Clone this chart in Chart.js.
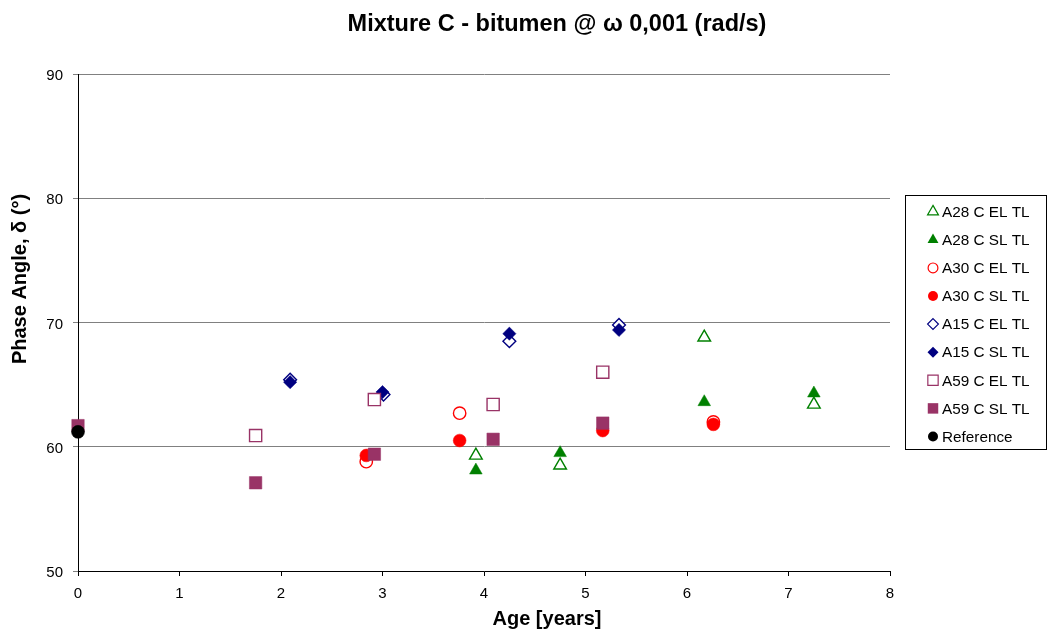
<!DOCTYPE html>
<html>
<head>
<meta charset="utf-8">
<script src="https://cdn.jsdelivr.net/npm/chart.js@4.4.1/dist/chart.umd.min.js"></script>
<style>
html,body{margin:0;padding:0;background:#fff;}
#wrap{width:1047px;height:632px;position:relative;}
</style>
</head>
<body>
<div id="wrap"><canvas id="c" width="1047" height="632"></canvas></div>
<script>
// ---- data ----
const chartTitle = "Mixture C - bitumen @ \u03c9 0,001 (rad/s)";
const xTitle = "Age [years]";
const yTitle = "Phase Angle, \u03b4 (\u00b0)";
const xTicks = [0,1,2,3,4,5,6,7,8];
const yTicks = [50,60,70,80,90];

const seriesNames = ["A28 C EL TL","A28 C SL TL","A30 C EL TL","A30 C SL TL","A15 C EL TL","A15 C SL TL","A59 C EL TL","A59 C SL TL","Reference"];

const a28EL_x = [3.92, 4.75, 6.17, 7.25];
const a28EL_y = [59.3, 58.5, 68.8, 63.4];
const a28SL_x = [3.92, 4.75, 6.17, 7.25];
const a28SL_y = [58.1, 59.5, 63.6, 64.3];
const a30EL_x = [2.84, 3.76, 6.26];
const a30EL_y = [58.8, 62.7, 62.0];
const a30SL_x = [2.84, 3.76, 5.17, 6.26];
const a30SL_y = [59.3, 60.5, 61.3, 61.8];
const a15EL_x = [2.09, 3.01, 4.25, 5.33];
const a15EL_y = [65.4, 64.2, 68.5, 69.8];
const a15SL_x = [2.09, 3.0, 4.25, 5.33];
const a15SL_y = [65.2, 64.4, 69.1, 69.4];
const a59EL_x = [1.75, 2.92, 4.09, 5.17];
const a59EL_y = [60.9, 63.8, 63.4, 66.0];
const a59SL_x = [0, 1.75, 2.92, 4.09, 5.17];
const a59SL_y = [61.7, 57.1, 59.4, 60.6, 61.9];
const ref_x = [0];
const ref_y = [61.2];

const GREEN = '#008000', RED = '#FF0000', NAVY = '#000080', PLUM = '#993366', BLACK = '#000000';

function pts(xs, ys){ return xs.map((x,i)=>({x:x, y:ys[i]})); }

const styles = [
  {style:'triangle', color:GREEN, fill:false, r:7.3, lr:6.3},
  {style:'triangle', color:GREEN, fill:true,  r:7.3, lr:6.3},
  {style:'circle',   color:RED,   fill:false, r:6.2, lr:4.9},
  {style:'circle',   color:RED,   fill:true,  r:6.4, lr:5},
  {style:'rectRot',  color:NAVY,  fill:false, r:6.4, lr:5.4},
  {style:'rectRot',  color:NAVY,  fill:true,  r:6.6, lr:5.5},
  {style:'rect',     color:PLUM,  fill:false, r:8.6, lr:7.3},
  {style:'rect',     color:PLUM,  fill:true,  r:8.8, lr:7.4},
  {style:'circle',   color:BLACK, fill:true,  r:6.5, lr:5}
];
const dataSets = [
  pts(a28EL_x,a28EL_y), pts(a28SL_x,a28SL_y),
  pts(a30EL_x,a30EL_y), pts(a30SL_x,a30SL_y),
  pts(a15EL_x,a15EL_y), pts(a15SL_x,a15SL_y),
  pts(a59EL_x,a59EL_y), pts(a59SL_x,a59SL_y),
  pts(ref_x,ref_y)
];

const datasets = dataSets.map((d,i)=>({
  label: seriesNames[i],
  data: d,
  showLine: false,
  clip: false,
  pointStyle: styles[i].style,
  pointRadius: styles[i].r,
  pointHoverRadius: styles[i].r,
  pointBorderColor: styles[i].color,
  pointBackgroundColor: styles[i].fill ? styles[i].color : '#ffffff',
  pointBorderWidth: styles[i].fill ? 0.5 : 1.4,
  order: dataSets.length - i
}));

const FONT = "Arial, 'Liberation Sans', sans-serif";

function drawMarker(ctx, st, x, y, r){
  ctx.save();
  ctx.beginPath();
  if (st.style === 'circle') {
    ctx.arc(x, y, r, 0, Math.PI*2);
  } else if (st.style === 'triangle') {
    const w = r*Math.sqrt(3);
    ctx.moveTo(x, y - r);
    ctx.lineTo(x + w/2, y + r/2);
    ctx.lineTo(x - w/2, y + r/2);
    ctx.closePath();
  } else if (st.style === 'rectRot') {
    ctx.moveTo(x, y - r); ctx.lineTo(x + r, y); ctx.lineTo(x, y + r); ctx.lineTo(x - r, y); ctx.closePath();
  } else if (st.style === 'rect') {
    const s = r*Math.SQRT1_2;
    ctx.rect(x - s, y - s, 2*s, 2*s);
  }
  if (st.fill) { ctx.fillStyle = st.color; ctx.fill(); }
  else { ctx.fillStyle = '#fff'; ctx.fill(); ctx.strokeStyle = st.color; ctx.lineWidth = 1.2; ctx.stroke(); }
  ctx.restore();
}

const textPlugin = {
  id: 'texts',
  afterDraw(chart){
    const ctx = chart.ctx;
    ctx.save();
    ctx.fillStyle = '#000';
    ctx.textAlign = 'center';
    ctx.textBaseline = 'middle';
    ctx.font = "bold 23.5px " + FONT;
    ctx.fillText(chartTitle, 557, 25);
    ctx.font = "bold 20px " + FONT;
    ctx.fillText(xTitle, 547, 619);
    ctx.save();
    ctx.translate(20, 279);
    ctx.rotate(-Math.PI/2);
    ctx.font = "bold 20px " + FONT;
    ctx.fillText(yTitle, 0, 0);
    ctx.restore();

    // legend
    ctx.strokeStyle = '#000';
    ctx.lineWidth = 1;
    ctx.strokeRect(905.5, 195.5, 141, 254);
    ctx.font = "15.3px " + FONT;
    ctx.textAlign = 'left';
    seriesNames.forEach((name, i) => {
      const y = 211.7 + i*28.1;
      drawMarker(ctx, styles[i], 933, y, styles[i].lr);
      ctx.fillStyle = '#000';
      ctx.fillText(name, 942, y + 1);
    });
    ctx.restore();
  }
};

new Chart(document.getElementById('c'), {
  type: 'scatter',
  data: { datasets },
  plugins: [textPlugin],
  options: {
    responsive: false,
    animation: false,
    events: [],
    layout: { padding: { top: 74, right: 157, left: 0, bottom: 0 } },
    plugins: { legend: { display: false }, title: { display: false }, tooltip: { enabled: false } },
    scales: {
      x: {
        type: 'linear', min: 0, max: 8,
        afterBuildTicks(s){ s.ticks = xTicks.map(v=>({value:v})); },
        afterFit(s){ s.height = 61; },
        grid: { drawOnChartArea: false, drawTicks: true, tickLength: 5, color: '#000' },
        border: { color: '#000', width: 1 },
        ticks: { color: '#000', font: { family: FONT, size: 15 }, padding: 9, maxRotation: 0 }
      },
      y: {
        type: 'linear', min: 50, max: 90,
        afterBuildTicks(s){ s.ticks = yTicks.map(v=>({value:v})); },
        afterFit(s){ s.width = 78; },
        grid: { drawOnChartArea: true, drawTicks: true, tickLength: 5, color: '#808080' },
        border: { color: '#000', width: 1 },
        ticks: { color: '#000', font: { family: FONT, size: 15 }, padding: 10, labelOffset: 2 }
      }
    }
  }
});
</script>
</body>
</html>
